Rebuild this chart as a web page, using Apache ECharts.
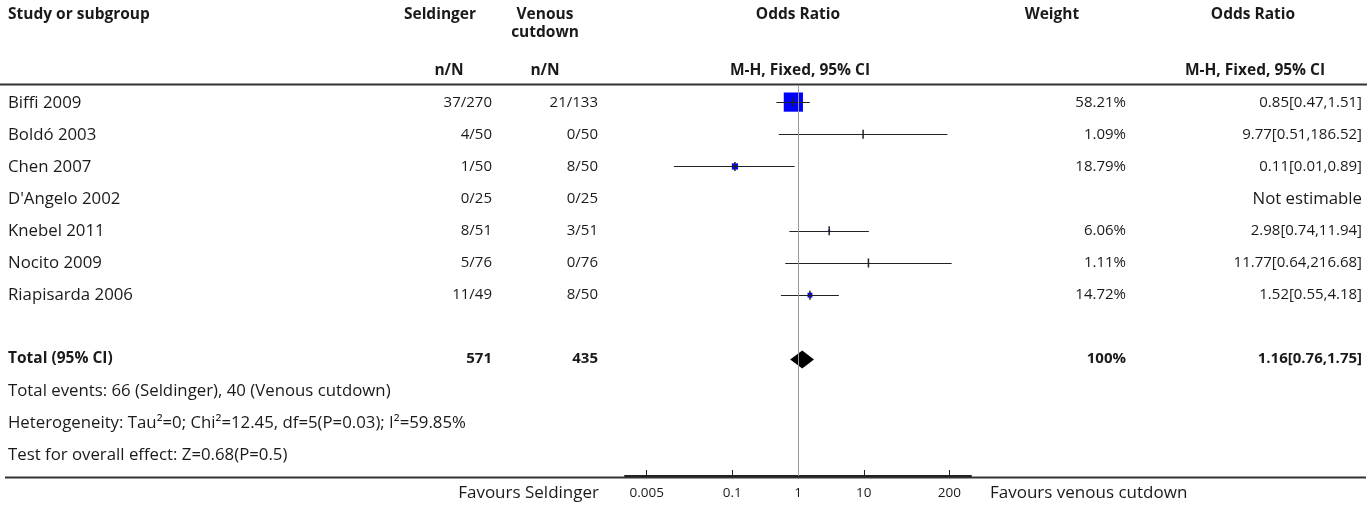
<!DOCTYPE html>
<html>
<head>
<meta charset="utf-8">
<script src="https://cdn.jsdelivr.net/npm/echarts@6/dist/echarts.min.js"></script>
<style>
html,body{margin:0;padding:0;background:#fff;}
#main{width:1370px;height:507px;}
</style>
</head>
<body>
<div id="main"></div>
<script>
// ---------- data ----------
const studies = ['Biffi 2009', 'Boldó 2003', 'Chen 2007', "D'Angelo 2002", 'Knebel 2011', 'Nocito 2009', 'Riapisarda 2006'];
const seldingerN = ['37/270', '4/50', '1/50', '0/25', '8/51', '5/76', '11/49'];
const venousN = ['21/133', '0/50', '8/50', '0/25', '3/51', '0/76', '8/50'];
const weights = [58.21, 1.09, 18.79, null, 6.06, 1.11, 14.72];
const oddsRatio = [0.85, 9.77, 0.11, null, 2.98, 11.77, 1.52];
const ciLower = [0.47, 0.51, 0.013, null, 0.74, 0.64, 0.55];
const ciUpper = [1.51, 186.52, 0.89, null, 11.94, 216.68, 4.18];
const totalSeldinger = 571;
const totalVenous = 435;
const totalWeight = '100%';
const totalOR = 1.16, totalLower = 0.76, totalUpper = 1.75;
const axisTicks = [0.005, 0.1, 1, 10, 200];
const footerLines = [
  'Total events: 66 (Seldinger), 40 (Venous cutdown)',
  'Heterogeneity: Tau\u00b2=0; Chi\u00b2=12.45, df=5(P=0.03); I\u00b2=59.85%',
  'Test for overall effect: Z=0.68(P=0.5)'
];

// ---------- layout ----------
const FONT = '"Open Sans"';
const FS = 16.8;   // body text
const FN = 15;     // numeric cells
const HB = 15.5;   // bold header
const TXT = '#1a1a1a';
const rowY = i => 103 + 32 * i;
const TOTAL_ROW = 8;
const lg = v => Math.log10(v);
const tickLogs = axisTicks.map(lg);

const chart = echarts.init(document.getElementById('main'));

const graphics = [];
function txt(text, x, y, align, bold, size) {
  graphics.push({
    type: 'text', x: x, y: y, silent: true,
    style: {
      text: text, x: 0, y: 0, align: align || 'left', verticalAlign: 'middle',
      fontFamily: FONT, fontSize: size || FS, fontWeight: bold ? 'bold' : 'normal', fill: TXT
    }
  });
}
// header
txt('Study or subgroup', 8, 15, 'left', true, HB);
txt('Seldinger', 440, 15, 'center', true, HB);
txt('Venous', 545, 15, 'center', true, HB);
txt('cutdown', 545, 33, 'center', true, HB);
txt('Odds Ratio', 798, 15, 'center', true, HB);
txt('Weight', 1052, 15, 'center', true, HB);
txt('Odds Ratio', 1253, 15, 'center', true, HB);
txt('n/N', 449, 71, 'center', true, HB);
txt('n/N', 545, 71, 'center', true, HB);
txt('M-H, Fixed, 95% CI', 800, 71, 'center', true, HB);
txt('M-H, Fixed, 95% CI', 1255, 71, 'center', true, HB);

// study rows
studies.forEach((s, i) => {
  const y = rowY(i);
  txt(s, 8, y, 'left', false, FS);
  txt(seldingerN[i], 492, y, 'right', false, FN);
  txt(venousN[i], 598, y, 'right', false, FN);
  if (weights[i] != null) {
    txt(weights[i].toFixed(2) + '%', 1126, y, 'right', false, FN);
    txt(oddsRatio[i].toFixed(2) + '[' + ciLower[i].toFixed(2) + ',' + ciUpper[i].toFixed(2) + ']', 1362, y, 'right', false, FN);
  } else {
    txt('Not estimable', 1362, y, 'right', false, FS);
  }
});
// total row
const ty = rowY(TOTAL_ROW);
txt('Total (95% CI)', 8, ty, 'left', true, HB);
txt(String(totalSeldinger), 492, ty, 'right', true, FN);
txt(String(totalVenous), 598, ty, 'right', true, FN);
txt(totalWeight, 1126, ty, 'right', true, FN);
txt(totalOR.toFixed(2) + '[' + totalLower.toFixed(2) + ',' + totalUpper.toFixed(2) + ']', 1362, ty, 'right', true, FN);
footerLines.forEach((t, k) => txt(t, 8, rowY(TOTAL_ROW + 1 + k), 'left', false, FS));
// favours labels
txt('Favours Seldinger', 599, 493, 'right', false, 17);
txt('Favours venous cutdown', 990, 493, 'left', false, 17);
// rules
graphics.push({ type: 'line', silent: true, shape: { x1: 0, y1: 84.5, x2: 1367, y2: 84.5 }, style: { stroke: '#333', lineWidth: 2 } });
graphics.push({ type: 'line', silent: true, shape: { x1: 5, y1: 477.5, x2: 1366, y2: 477.5 }, style: { stroke: '#333', lineWidth: 2 } });

const studyData = [];
studies.forEach((s, i) => {
  if (oddsRatio[i] != null) studyData.push([lg(oddsRatio[i]), i, lg(ciLower[i]), lg(ciUpper[i]), weights[i]]);
});

const option = {
  animation: false,
  backgroundColor: '#fff',
  grid: { left: 625, right: 399, top: 86, bottom: 31, containLabel: false },
  xAxis: {
    type: 'value', min: -2.63, max: 2.63,
    axisLine: { show: true, onZero: false, lineStyle: { color: '#222', width: 2 } },
    axisTick: { show: true, inside: true, length: 6, customValues: tickLogs, lineStyle: { color: '#222', width: 1 } },
    axisLabel: {
      show: true, customValues: tickLogs, margin: 10,
      fontFamily: FONT, fontSize: 13.5, color: TXT,
      formatter: v => { const i = tickLogs.findIndex(t => Math.abs(t - v) < 1e-6); return i >= 0 ? String(axisTicks[i]) : ''; }
    },
    splitLine: { show: false }
  },
  yAxis: { type: 'value', inverse: true, min: -0.5, max: 11.62, show: false },
  graphic: graphics,
  series: [
    {
      type: 'custom', name: 'studies', data: studyData, encode: { x: 0, y: 1 },
      renderItem: (params, api) => {
        const row = api.value(1);
        const c = api.coord([api.value(0), row]);
        const lo = api.coord([api.value(2), row]);
        const hi = api.coord([api.value(3), row]);
        const s = api.value(4) * 0.33;
        const yy = Math.round(c[1]) + 0.5;
        return {
          type: 'group', children: [
            { type: 'rect', shape: { x: c[0] - s / 2, y: c[1] - s / 2, width: s, height: s }, style: { fill: '#0000ff' } },
            { type: 'line', shape: { x1: lo[0], y1: yy, x2: hi[0], y2: yy }, style: { stroke: '#222', lineWidth: 1.2 } },
            { type: 'line', shape: { x1: c[0], y1: c[1] - 4.5, x2: c[0], y2: c[1] + 4.5 }, style: { stroke: '#222', lineWidth: 1.5 } }
          ]
        };
      },
      markLine: {
        silent: true, symbol: 'none', label: { show: false },
        lineStyle: { color: '#999', width: 1, type: 'solid' },
        data: [{ xAxis: 0 }]
      },
      z: 3
    },
    {
      type: 'custom', name: 'total', data: [[lg(totalOR), TOTAL_ROW, lg(totalLower), lg(totalUpper)]], encode: { x: 0, y: 1 },
      renderItem: (params, api) => {
        const row = api.value(1);
        const c = api.coord([api.value(0), row]);
        const lo = api.coord([api.value(2), row]);
        const hi = api.coord([api.value(3), row]);
        return {
          type: 'polygon',
          shape: { points: [[lo[0], c[1]], [c[0], c[1] - 9], [hi[0], c[1]], [c[0], c[1] + 9]] },
          style: { fill: '#000' }
        };
      },
      z: 4
    }
  ]
};
chart.setOption(option);
</script>
</body>
</html>
